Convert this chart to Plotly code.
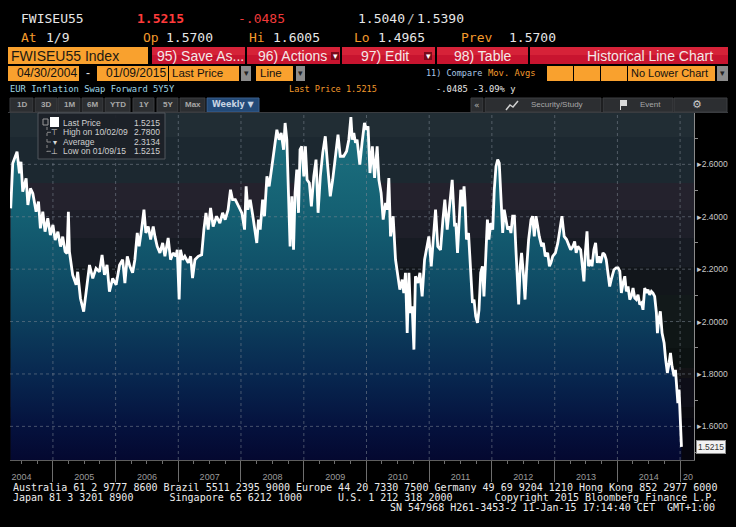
import plotly.graph_objects as go

W, H = 736, 527
def X(px): return px / W
def Y(py): return 1 - py / H

# ---------------- data ----------------
dates = [
 "2004-04-30","2004-05-12","2004-06-06","2004-06-20","2004-06-29","2004-07-09","2004-07-29","2004-08-08",
 "2004-08-23","2004-09-06","2004-09-25","2004-10-09","2004-10-20","2004-11-03","2004-11-16","2004-12-02",
 "2004-12-17","2005-01-01","2005-01-14","2005-01-30","2005-02-14","2005-02-27","2005-03-13","2005-03-24",
 "2005-04-01","2005-04-07","2005-04-26","2005-05-16","2005-05-25","2005-06-10","2005-06-29","2005-07-13",
 "2005-08-02","2005-08-21","2005-09-09","2005-09-29","2005-10-14","2005-10-28","2005-11-12","2005-11-26",
 "2005-12-15","2006-01-04","2006-01-24","2006-02-11","2006-02-24","2006-03-10","2006-03-25","2006-04-10",
 "2006-04-23","2006-05-07","2006-05-18","2006-06-01","2006-06-15","2006-06-26","2006-07-10","2006-07-24",
 "2006-08-08","2006-08-18","2006-08-31","2006-09-16","2006-10-02","2006-10-15","2006-11-03","2006-11-17",
 "2006-12-02","2006-12-18","2006-12-26","2007-01-06","2007-01-14","2007-01-26","2007-02-08","2007-02-28",
 "2007-03-14","2007-03-25","2007-04-08","2007-04-27","2007-05-17","2007-05-30","2007-06-11","2007-06-24",
 "2007-07-08","2007-07-23","2007-08-12","2007-08-31","2007-09-16","2007-10-01","2007-10-18","2007-11-01",
 "2007-11-13","2007-11-29","2007-12-19","2008-01-06","2008-01-22","2008-01-31","2008-02-10","2008-02-24",
 "2008-03-09","2008-03-20","2008-04-02","2008-04-12","2008-04-22","2008-05-06","2008-05-17","2008-05-31",
 "2008-06-13","2008-06-29","2008-07-14","2008-07-28","2008-08-10","2008-08-22","2008-09-05","2008-09-14",
 "2008-09-24","2008-10-04","2008-10-13","2008-10-23","2008-11-02","2008-11-11","2008-11-21","2008-12-01",
 "2008-12-10","2008-12-20","2009-01-01","2009-01-10","2009-01-20","2009-02-02","2009-02-14","2009-02-28",
 "2009-03-13","2009-03-25","2009-04-07","2009-04-21","2009-05-06","2009-05-20","2009-06-04","2009-06-18",
 "2009-07-03","2009-07-19","2009-08-01","2009-08-21","2009-09-07","2009-09-20","2009-10-02","2009-10-10",
 "2009-10-19","2009-10-29","2009-11-07","2009-11-23","2009-12-06","2009-12-20","2010-01-02","2010-01-10",
 "2010-01-21","2010-02-04","2010-02-17","2010-03-04","2010-03-14","2010-03-27","2010-04-08","2010-04-22",
 "2010-05-01","2010-05-11","2010-05-21","2010-06-05","2010-06-19","2010-06-28","2010-07-14","2010-07-28",
 "2010-08-06","2010-08-16","2010-08-26","2010-09-05","2010-09-14","2010-09-24","2010-10-04","2010-10-13",
 "2010-10-27","2010-11-08","2010-11-21","2010-12-05","2010-12-17","2010-12-30","2011-01-13","2011-01-25",
 "2011-02-07","2011-02-20","2011-03-08","2011-03-22","2011-04-02","2011-04-16","2011-05-01","2011-05-15",
 "2011-05-29","2011-06-05","2011-06-15","2011-06-24","2011-07-04","2011-07-14","2011-07-23","2011-07-29",
 "2011-08-06","2011-08-18","2011-08-31","2011-09-10","2011-09-19","2011-09-29","2011-10-09","2011-10-18",
 "2011-10-28","2011-11-07","2011-11-16","2011-11-26","2011-12-06","2011-12-15","2011-12-25","2012-01-06",
 "2012-01-15","2012-01-25","2012-02-04","2012-02-13","2012-02-23","2012-03-04","2012-03-13","2012-03-23",
 "2012-04-02","2012-04-12","2012-04-21","2012-05-01","2012-05-11","2012-05-20","2012-05-30","2012-06-05",
 "2012-06-14","2012-06-22","2012-07-02","2012-07-12","2012-07-21","2012-08-02","2012-08-16","2012-08-25",
 "2012-09-04","2012-09-14","2012-09-24","2012-10-03","2012-10-17","2012-10-27","2012-11-07","2012-11-21",
 "2012-12-01","2012-12-10","2012-12-20","2013-01-05","2013-01-19","2013-02-01","2013-02-12","2013-02-25",
 "2013-03-11","2013-03-27","2013-04-04","2013-04-17","2013-04-27","2013-05-06","2013-05-16","2013-06-01",
 "2013-06-08","2013-06-20","2013-06-28","2013-07-08","2013-07-17","2013-07-29","2013-08-06","2013-08-17",
 "2013-08-27","2013-09-06","2013-09-16","2013-09-25","2013-10-09","2013-10-19","2013-10-28","2013-11-07",
 "2013-11-17","2013-11-26","2013-12-12","2013-12-25","2014-01-05","2014-01-15","2014-01-24","2014-02-03",
 "2014-02-13","2014-02-22","2014-03-04","2014-03-14","2014-03-23","2014-04-02","2014-04-12","2014-04-21",
 "2014-05-01","2014-05-11","2014-05-21","2014-05-30","2014-06-09","2014-06-19","2014-06-28","2014-07-08",
 "2014-07-18","2014-07-27","2014-08-06","2014-08-16","2014-08-22","2014-08-30","2014-09-08","2014-09-18",
 "2014-09-30","2014-10-09","2014-10-19","2014-10-29","2014-11-06","2014-11-15","2014-11-27","2014-12-05",
 "2014-12-12","2014-12-19","2014-12-26","2015-01-02","2015-01-09",
]
values = [
 2.432,2.604,2.648,2.566,2.610,2.496,2.547,2.445,
 2.508,2.489,2.419,2.458,2.356,2.419,2.343,2.394,
 2.330,2.369,2.311,2.343,2.286,2.324,2.267,2.260,
 2.419,2.267,2.178,2.140,2.190,2.089,2.038,2.114,
 2.216,2.165,2.203,2.190,2.254,2.178,2.216,2.114,
 2.165,2.140,2.216,2.236,2.147,2.249,2.211,2.186,
 2.236,2.338,2.287,2.351,2.427,2.338,2.363,2.313,
 2.363,2.325,2.287,2.262,2.300,2.249,2.319,2.236,
 2.262,2.249,2.274,2.084,2.274,2.236,2.249,2.224,
 2.249,2.166,2.236,2.249,2.255,2.351,2.415,2.351,
 2.434,2.363,2.402,2.376,2.415,2.389,2.427,2.503,
 2.465,2.465,2.440,2.415,2.351,2.516,2.427,2.465,
 2.408,2.363,2.300,2.389,2.351,2.465,2.402,2.554,
 2.516,2.592,2.669,2.732,2.694,2.720,2.656,2.758,
 2.694,2.465,2.287,2.478,2.274,2.491,2.580,2.415,
 2.656,2.669,2.554,2.669,2.541,2.529,2.440,2.554,
 2.618,2.415,2.554,2.643,2.707,2.592,2.478,2.541,
 2.631,2.713,2.631,2.631,2.650,2.694,2.780,2.694,
 2.720,2.682,2.694,2.599,2.682,2.758,2.732,2.745,
 2.567,2.669,2.548,2.669,2.541,2.491,2.389,2.453,
 2.427,2.548,2.325,2.402,2.236,2.198,2.122,2.160,
 2.109,2.186,1.956,2.186,2.033,2.058,1.893,2.173,
 2.147,2.186,2.096,2.236,2.287,2.325,2.211,2.313,
 2.427,2.287,2.274,2.389,2.465,2.351,2.453,2.541,
 2.363,2.376,2.262,2.389,2.503,2.440,2.516,2.453,
 2.313,2.338,2.186,2.071,2.084,2.020,1.995,2.045,
 2.186,2.211,2.096,2.236,2.389,2.313,2.376,2.351,
 2.503,2.592,2.618,2.605,2.478,2.338,2.427,2.389,
 2.351,2.363,2.338,2.402,2.402,2.274,2.160,2.065,
 2.211,2.262,2.186,2.084,2.198,2.313,2.389,2.402,
 2.325,2.402,2.363,2.325,2.287,2.300,2.249,2.262,
 2.211,2.224,2.249,2.262,2.300,2.351,2.402,2.325,
 2.313,2.287,2.274,2.287,2.306,2.262,2.287,2.274,
 2.236,2.153,2.262,2.344,2.211,2.236,2.211,2.274,
 2.300,2.224,2.249,2.224,2.262,2.255,2.236,2.186,
 2.134,2.160,2.198,2.205,2.205,2.192,2.109,2.147,
 2.173,2.115,2.134,2.084,2.096,2.128,2.090,2.084,
 2.102,2.065,2.071,2.045,2.128,2.109,2.122,2.102,
 2.115,2.109,2.096,2.033,1.956,2.007,2.039,1.956,
 1.918,1.855,1.804,1.842,1.880,1.829,1.791,1.816,
 1.727,1.689,1.740,1.651,1.5215,
]

year_bounds = ["2005-01-01","2006-01-01","2007-01-01","2008-01-01","2009-01-01","2010-01-01",
               "2011-01-01","2012-01-01","2013-01-01","2014-01-01","2015-01-01"]
y_major = [1.6, 1.8, 2.0, 2.2, 2.4, 2.6]
y_major_text = ["▸" + f"{v:.4f}" for v in y_major]
y_minor = [1.5, 1.7, 1.9, 2.1, 2.3, 2.5, 2.7]
Y_MIN, Y_MAX = 1.4716, 2.796
X_MIN, X_MAX = "2004-04-26", "2015-03-23"

ticker = "FWISEU55"
security = "FWISEU55 Index"
description = "EUR Inflation Swap Forward 5Y5Y"
last_price = "1.5215"
net_change = "-.0485"
pct_change = "-3.09% y"
bid, ask = "1.5040", "1.5390"
quote_labels = ["At", "Op", "Hi", "Lo", "Prev"]
quote_values = ["1/9", "1.5700", "1.6005", "1.4965", "1.5700"]
start_date, end_date = "04/30/2004", "01/09/2015"
legend_labels = ["Last Price", "High on 10/02/09", "Average", "Low on 01/09/15"]
legend_values = ["1.5215", "2.7800", "2.3134", "1.5215"]
period_buttons = ["1D", "3D", "1M", "6M", "YTD", "1Y", "5Y", "Max"]
menu_buttons = ["95) Save As...", "96) Actions", "97) Edit", "98) Table"]

# ---------------- styling helpers ----------------
ORANGE = "#f9a12e"
RED = "#c8142f"
MONO = "DejaVu Sans Mono"
SANS = "Liberation Sans"

shapes, ann = [], []

def rect(x0, y0, x1, y1, fill, line=None, layer="above", lw=1):
    shapes.append(dict(type="rect", xref="paper", yref="paper", x0=X(x0), x1=X(x1),
                       y0=Y(y1), y1=Y(y0), fillcolor=fill, layer=layer,
                       line=dict(width=lw if line else 0, color=line or fill)))

def txt(px, py, s, color="#e6e6e6", size=13, family=MONO, anchor="left"):
    ann.append(dict(x=X(px), y=Y(py), xref="paper", yref="paper", text=s, showarrow=False,
                    xanchor=anchor, yanchor="middle", borderpad=0,
                    font=dict(color=color, size=size, family=family)))

# ---------- header row 1 & 2 ----------
txt(20, 18, ticker)
txt(136, 18, "<b>" + last_price + "</b>", color="#ff3b3b")
txt(237, 18, net_change, color="#f03a3a")
txt(357, 18, bid)
txt(406, 18, "/", color="#bbbbbb")
txt(416, 18, ask)
q_lab_x = [20, 142, 248, 353, 460]
q_val_x = [45, 165, 272, 377, 508]
for lx, vx, l, v in zip(q_lab_x, q_val_x, quote_labels, quote_values):
    txt(lx, 37.5, l, color="#f39a2c")
    txt(vx, 37.5, v)

# ---------- row 3: menu ----------
rect(8, 47, 148, 64, ORANGE)
txt(10, 56, security, color="#1e1a12", size=14, family=SANS)
btn_x = [(152, 245), (247, 340), (342, 435), (437, 528)]
btn_tx = [156, 257, 360, 453]
for (a, b), tx, s in zip(btn_x, btn_tx, menu_buttons):
    rect(a, 47, b, 64, RED)
    rect(a, 47, b, 55, "#d62238")
    txt(tx, 56, s, color="#f4e8e8", size=14, family=SANS)
for ax_ in (331, 424):
    rect(ax_, 52, ax_ + 8, 60, "#7a0a1a")
    txt(ax_ + 4, 56, "▾", color="#ffffff", size=9, family="DejaVu Sans", anchor="center")
rect(530, 47, 728, 64, RED)
rect(530, 47, 728, 55, "#d62238")
txt(714, 56, "Historical Line Chart", color="#f4e8e8", size=14, family=SANS, anchor="right")

# ---------- row 4 ----------
for a, b in [(8, 79), (97, 168), (169, 239), (256, 293), (547, 573), (574, 600), (601, 627), (628, 715)]:
    rect(a, 66, b, 81, ORANGE)
for a, b in [(241, 251), (296, 305), (717, 728)]:
    rect(a, 66, b, 81, "#8c8c8c")
    txt((a + b) / 2, 73.5, "▾", color="#222222", size=9, family="DejaVu Sans", anchor="center")
txt(16, 73.5, start_date, color="#111111", size=12, family=SANS)
txt(85, 73.5, "-", color="#e6e6e6", size=12, family=SANS)
txt(105, 73.5, end_date, color="#111111", size=12, family=SANS)
txt(171, 73.5, "Last Price", color="#111111", size=11.5, family=SANS)
txt(259, 73.5, "Line", color="#111111", size=11.5, family=SANS)
txt(630, 73.5, "No Lower Chart", color="#111111", size=11, family=SANS)
txt(425, 73.5, "11) Compare", color="#a9c8e8", size=8.5, family=MONO)
txt(487, 73.5, "Mov. Avgs", color="#f39a2c", size=8.8, family=MONO)

# ---------- row 5 ----------
txt(9, 88.5, description, color="#9fd6e6", size=8.8)
txt(288, 88.5, "Last Price " + last_price, color="#f39a2c", size=8.6)
txt(435, 88.5, net_change + " " + pct_change, color="#e6e6e6", size=8.8)

# ---------- row 6: toolbar ----------
pb_x = [(10, 33), (35, 57), (58, 80), (82, 103), (105, 130), (133, 154), (157, 178), (180, 205)]
for (a, b), s in zip(pb_x, period_buttons):
    rect(a, 98, b, 112, "#2c2e31", line="#3c3e42")
    txt((a + b) / 2, 105, "<b>" + s + "</b>", color="#a8a8a8", size=8, family=SANS, anchor="center")
rect(207, 98, 259, 112, "#234a78", line="#3a5f8c")
txt(233, 105, "<b>Weekly ▼</b>", color="#c8d4e2", size=8, family="DejaVu Sans", anchor="center")
for a, b in [(471, 483), (485, 601), (603, 673), (674, 727)]:
    rect(a, 98, b, 112, "#2c2e31", line="#3c3e42")
txt(477, 105, "«", color="#b0b0b0", size=9, family="DejaVu Sans", anchor="center")
shapes.append(dict(type="path", xref="paper", yref="paper", layer="above",
                   path=f"M {X(506)} {Y(110)} L {X(510)} {Y(105)} L {X(513)} {Y(107)} L {X(518)} {Y(101)}",
                   line=dict(color="#d0d0d0", width=1.5)))
txt(530, 105, "Security/Study", color="#a8a8a8", size=8, family=SANS)
rect(620, 100, 627, 106, "#d8d8d8")
rect(620, 100, 621, 110, "#d8d8d8")
txt(639, 105, "Event", color="#a8a8a8", size=8, family=SANS)
txt(697, 105, "⚙", color="#c8c8c8", size=11, family="DejaVu Sans", anchor="center")
rect(8, 112, 728, 113, "#3a3c40")

# ---------- plot background bands ----------
bands = [(113, 137, "#212d34"), (137, 183, "#1c2830"), (183, 210, "#24222d"), (210, 238, "#1e1f29"),
         (238, 267, "#171b23"), (267, 295, "#12161b"), (295, 322, "#12191a"), (322, 348, "#0f1616"),
         (348, 368, "#0c1212"), (368, 378, "#131316"), (378, 407, "#0e0e18"), (407, 418, "#0a0a10"),
         (418, 460, "#06060f")]
for a, b, c in bands:
    rect(10, a, 694, b, c, layer="below")

# ---------- legend box ----------
rect(38, 113, 165, 159, "rgba(28,33,40,0.95)", line="#50565c")
rect(43, 119, 48, 125, "rgba(0,0,0,0)", line="#9a9a9a")
rect(50, 117, 59, 127, "#ffffff")
shapes.append(dict(type="line", xref="paper", yref="paper", x0=X(47), x1=X(47), y0=Y(127), y1=Y(152),
                   line=dict(color="#8a8a8a", width=1, dash="dot"), layer="above"))
for yy, g in zip([132.3, 142, 151.3], ["⊤", "▾", "⊥"]):
    shapes.append(dict(type="line", xref="paper", yref="paper", x0=X(47), x1=X(51), y0=Y(yy), y1=Y(yy),
                       line=dict(color="#8a8a8a", width=1), layer="above"))
    txt(54.5, yy, g, color="#d8d8d8", size=8, family="DejaVu Sans", anchor="center")
for yy, l, v in zip([123.3, 132.3, 142, 151.3], legend_labels, legend_values):
    txt(62, yy, l, color="#d0d0d0", size=8.5, family=SANS)
    txt(161, yy, v, color="#d0d0d0", size=8.5, family=SANS, anchor="right")

# ---------- bottom text ----------
NB = "\u00a0"
txt(12, 487.7, "Australia 61 2 9777 8600 Brazil 5511 2395 9000 Europe 44 20 7330 7500 Germany 49 69 9204 1210 Hong Kong 852 2977 6000".replace(" ", NB),
    color="#ececec", size=10)
txt(12, 497.7, ("Japan 81 3 3201 8900" + " " * 6 + "Singapore 65 6212 1000" + " " * 6 + "U.S. 1 212 318 2000" + " " * 7
                + "Copyright 2015 Bloomberg Finance L.P.").replace(" ", NB), color="#ececec", size=10)
txt(716, 507.7, "SN 547968 H261-3453-2 11-Jan-15 17:14:40 CET  GMT+1:00".replace(" ", NB),
    color="#ececec", size=10, anchor="right")
txt(682, 477, "20", color="#9a9a9a", size=9, family=SANS)

# last price tag
ann.append(dict(x=X(696), xref="paper", y=float(last_price), yref="y", text=last_price, showarrow=False,
                xanchor="left", yanchor="middle", bgcolor="#f2f2f2", bordercolor="#909090", borderwidth=1,
                borderpad=1, font=dict(color="#333333", size=8.5, family=SANS)))

# ---------------- traces ----------------
gx, gy = [], []
for d in year_bounds:
    gx += [d, d, None]; gy += [Y_MIN, Y_MAX, None]
for v in y_major:
    gx += [X_MIN, X_MAX, None]; gy += [v, v, None]

fig = go.Figure()
fig.add_trace(go.Scatter(
    x=dates, y=values, mode="lines", line=dict(width=0, color="rgba(0,0,0,0)"),
    fill="tozeroy", hoverinfo="skip", showlegend=False,
    fillgradient=dict(type="vertical", start=Y_MIN, stop=Y_MAX, colorscale=[
        [0.0, "rgb(4,8,48)"], [0.1, "rgb(5,18,62)"], [0.25, "rgb(8,40,80)"], [0.4, "rgb(12,62,92)"],
        [0.55, "rgb(16,80,104)"], [0.7, "rgb(20,95,114)"], [0.85, "rgb(25,106,122)"], [1.0, "rgb(30,112,128)"]]),
))
fig.add_trace(go.Scatter(x=gx, y=gy, mode="lines", hoverinfo="skip", showlegend=False,
                         line=dict(color="rgba(125,135,145,0.55)", width=1, dash="dot")))
fig.add_trace(go.Scatter(x=dates, y=values, mode="lines", showlegend=False,
                         line=dict(color="#ffffff", width=2.8)))

fig.update_layout(
    width=W, height=H, template="none",
    margin=dict(l=0, r=0, t=0, b=0),
    paper_bgcolor="#000000", plot_bgcolor="#06060f",
    shapes=shapes, annotations=ann, showlegend=False,
    xaxis=dict(type="date", domain=[X(10), X(694)], range=[X_MIN, X_MAX], automargin=False,
               dtick="M12", tick0="2004-01-01", tickformat="%Y", ticklabelmode="period",
               ticks="outside", ticklen=21, tickcolor="#6e6e6e", tickwidth=1, ticklabelstandoff=-13,
               showline=True, linecolor="#5e5e5e", linewidth=1, showgrid=False, zeroline=False,
               tickfont=dict(color="#9a9a9a", size=9, family=SANS),
               minor=dict(dtick="M3", tick0="2004-01-01", ticks="outside", ticklen=3, tickcolor="#6e6e6e", showgrid=False)),
    yaxis=dict(domain=[Y(460), Y(113)], range=[Y_MIN, Y_MAX], side="right", automargin=False,
               tickmode="array", tickvals=y_major, ticktext=y_major_text, ticks="",
               showline=True, linecolor="#8a8a8a", linewidth=1, showgrid=False, zeroline=False,
               tickfont=dict(color="#c8c8c8", size=8.5, family=SANS),
               minor=dict(tickvals=y_minor, ticks="outside", ticklen=3, tickcolor="#8a8a8a", showgrid=False)),
)
fig.write_html("out.html", config={"displayModeBar": False},
               post_script="document.body.style.margin='0';document.body.style.overflow='hidden';")
